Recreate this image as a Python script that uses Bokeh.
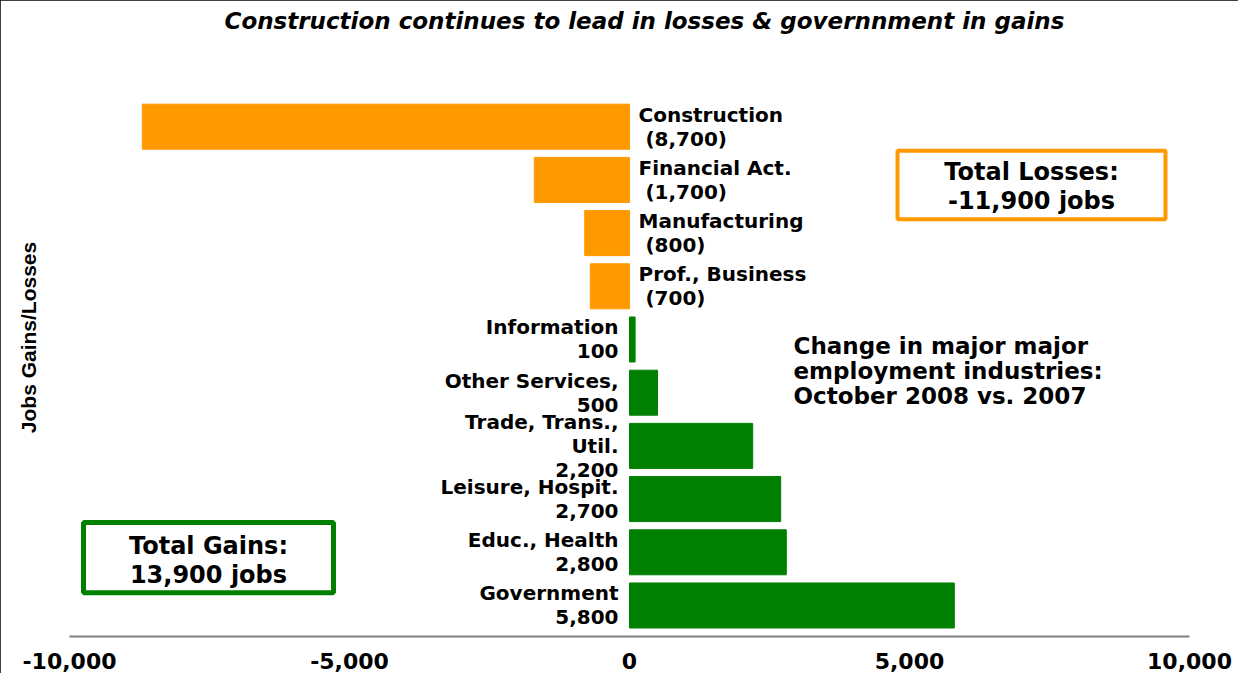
from bokeh.plotting import figure
from bokeh.models import (ColumnDataSource, Range1d, FixedTicker, NumeralTickFormatter,
                          BoxAnnotation, Label)
from bokeh.core.properties import value
from bokeh.embed import file_html
from bokeh.resources import INLINE

# ---- data ----
categories = ["Construction", "Financial Act.", "Manufacturing", "Prof., Business",
              "Information", "Other Services,", "Trade, Trans.,\nUtil.",
              "Leisure, Hospit.", "Educ., Health", "Government"]
values = [-8700, -1700, -800, -700, 100, 500, 2200, 2700, 2800, 5800]
x_ticks = [-10000, -5000, 0, 5000, 10000]
title_text = "Construction continues to lead in losses & governnment in gains"
y_label = "Jobs Gains/Losses"
loss_text = "Total Losses:\n-11,900 jobs"
gain_text = "Total Gains:\n13,900 jobs"
note_text = "Change in major major\nemployment industries:\nOctober 2008 vs. 2007"

ORANGE = "#FF9900"
GREEN = "#008000"
FONT = "DejaVu Sans"

n = len(categories)
ys = [n - 1 - i for i in range(n)]
colors = [ORANGE if v < 0 else GREEN for v in values]

def fmt(v):
    return "\u00a0({:,})".format(-v) if v < 0 else "{:,}".format(v)

labels = [c + "\n" + fmt(v) for c, v in zip(categories, values)]

src = ColumnDataSource(dict(y=ys, v=values, color=colors, zero=[0] * n))
neg_idx = [i for i, v in enumerate(values) if v < 0]
pos_idx = [i for i, v in enumerate(values) if v >= 0]
neg = ColumnDataSource(dict(y=[ys[i] for i in neg_idx], x=[0] * len(neg_idx),
                            t=[labels[i] for i in neg_idx]))
pos = ColumnDataSource(dict(y=[ys[i] for i in pos_idx], x=[0] * len(pos_idx),
                            t=[labels[i] for i in pos_idx]))

p = figure(width=1238, height=673, output_backend="svg", toolbar_location=None,
           x_range=Range1d(-10000, 10000), y_range=Range1d(-0.583, 10.658),
           min_border_left=69, min_border_right=49, min_border_bottom=37,
           min_border_top=0)
p.styles = {"outline": "2px solid black", "outline-offset": "-2px"}

p.title.text = title_text
p.title.text_font = FONT
p.title.text_font_style = "bold italic"
p.title.text_font_size = "23px"
p.title.text_color = "black"
p.title.align = "left"
p.title.offset = 155

p.hbar(y="y", left="zero", right="v", height=0.846, color="color", source=src)

common = dict(text_font=value(FONT), text_font_style="bold", text_font_size="20px",
              text_line_height=1.0, text_baseline="middle", text_color="black")
p.text(x="x", y="y", text="t", source=neg, text_align="left", x_offset=9, **common)
p.text(x="x", y="y", text="t", source=pos, text_align="right", x_offset=-11, **common)

# total boxes
p.add_layout(BoxAnnotation(left=4786, right=9571, bottom=7.26, top=8.55,
                           fill_alpha=0, line_color=ORANGE, line_alpha=1.0,
                           line_width=4))
p.add_layout(BoxAnnotation(left=-9750, right=-5286, bottom=0.24, top=1.56,
                           fill_alpha=0, line_color=GREEN, line_alpha=1.0,
                           line_width=5))
box_font = dict(text_font=FONT, text_font_style="bold", text_font_size="24px",
                text_line_height=1.05, text_align="center", text_baseline="middle",
                text_color="black")
p.add_layout(Label(x=7179, y=7.88, text=loss_text, **box_font))
p.add_layout(Label(x=-7518, y=0.85, text=gain_text, **box_font))
p.add_layout(Label(x=2929, y=4.40, text=note_text, text_font=FONT,
                   text_font_style="bold", text_font_size="23px",
                   text_line_height=0.96, text_align="left", text_baseline="middle",
                   text_color="black"))

# axes
p.xaxis.ticker = FixedTicker(ticks=x_ticks)
p.xaxis.formatter = NumeralTickFormatter(format="0,0")
p.xaxis.major_label_text_font = FONT
p.xaxis.major_label_text_font_style = "bold"
p.xaxis.major_label_text_font_size = "22px"
p.xaxis.major_label_text_color = "black"
p.xaxis.axis_line_color = "#808080"
p.xaxis.axis_line_width = 2
p.xaxis.major_tick_line_color = None
p.xaxis.minor_tick_line_color = None
p.xaxis.major_label_standoff = 10

p.yaxis.ticker = FixedTicker(ticks=[])
p.yaxis.axis_label = y_label
p.yaxis.axis_label_text_font = "Liberation Sans"
p.yaxis.axis_label_text_font_style = "bold"
p.yaxis.axis_label_text_font_size = "21px"
p.yaxis.axis_label_text_color = "black"
p.yaxis.axis_label_standoff = 30
p.yaxis.axis_line_color = None
p.yaxis.major_tick_line_color = None
p.yaxis.minor_tick_line_color = None

p.xgrid.visible = False
p.ygrid.visible = False
p.outline_line_color = None

open("out.html", "w").write(file_html(p, INLINE))
